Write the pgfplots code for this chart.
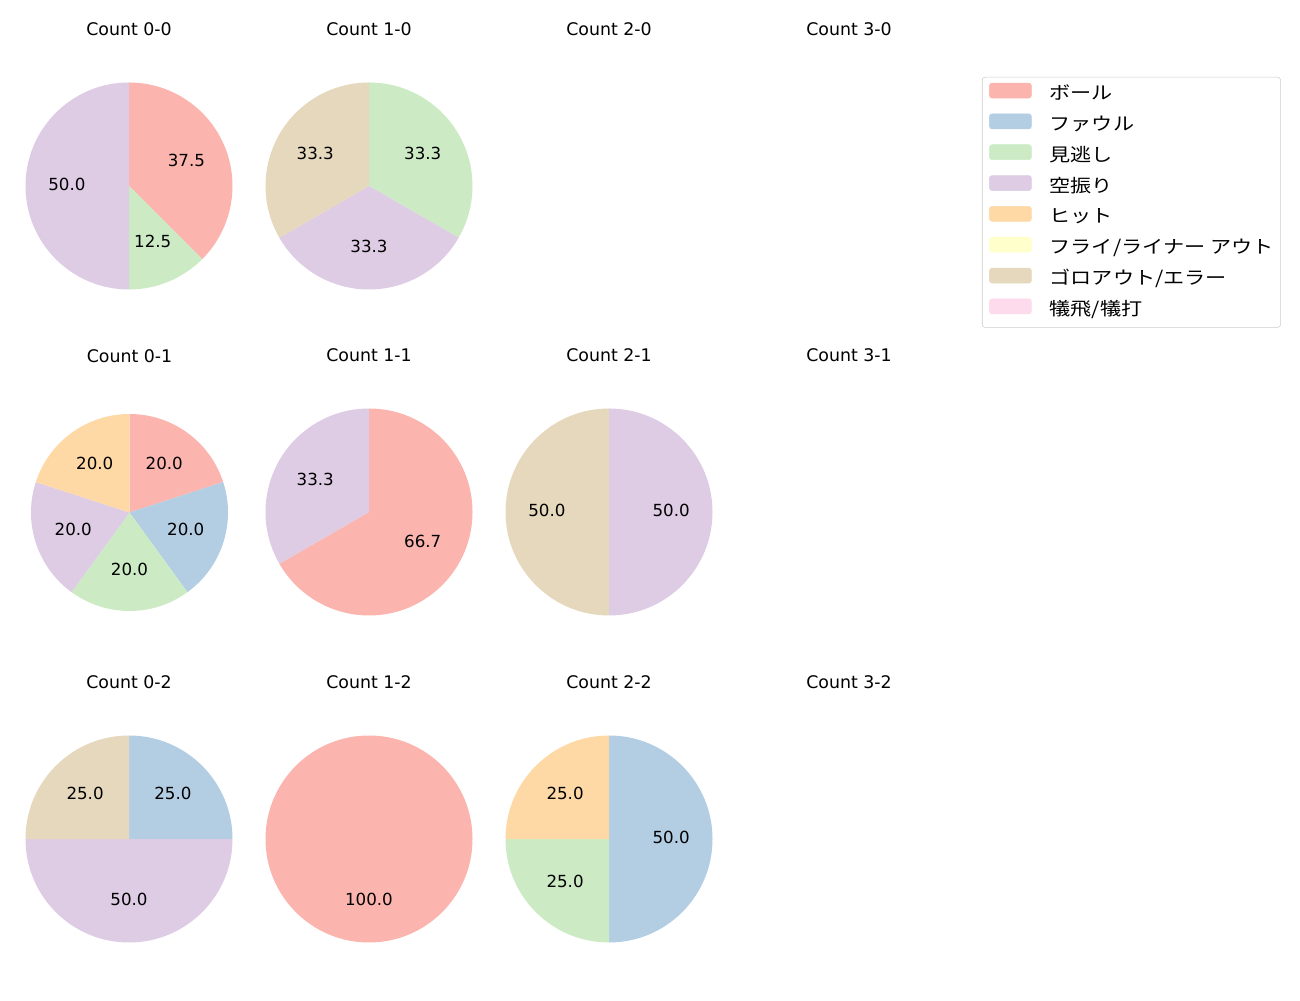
\documentclass[border=0pt]{standalone}
\usepackage{fontspec}
\setmainfont[FakeStretch=1.17]{Noto Sans CJK JP}
\newfontfamily\latinfont{DejaVu Sans}
\usepackage{pgfplots}
\pgfplotsset{compat=1.18}

% Pastel1
\definecolor{pA}{HTML}{FBB4AE} % ボール
\definecolor{pB}{HTML}{B3CDE3} % ファウル
\definecolor{pC}{HTML}{CCEBC5} % 見逃し
\definecolor{pD}{HTML}{DECBE4} % 空振り
\definecolor{pE}{HTML}{FED9A6} % ヒット
\definecolor{pF}{HTML}{FFFFCC} % フライ/ライナー アウト
\definecolor{pG}{HTML}{E5D8BD} % ゴロアウト/エラー
\definecolor{pH}{HTML}{FDDAEC} % 犠飛/犠打

\def\R{74.52pt}

\pgfplotsset{
  every axis title shift=0pt,
  pie/.style={hide axis, x=\R, y=\R, xmin=-1.2, xmax=1.2, ymin=-1.2, ymax=1.2,
    anchor=center, clip=false,
    title style={at={(0.5,1.132)}, anchor=center, font=\latinfont\fontsize{12.5}{14}\selectfont}},
}
\tikzset{lbl/.style={font=\latinfont\fontsize{12}{14}\selectfont, yshift=1.2pt}}

% #1 total, #2 list of count/colour, clockwise from the top
\newcommand\pie[2]{%
  \gdef\cum{90}%
  \foreach \v/\c in {#2}{%
    \pgfmathsetmacro\angA{\cum}%
    \pgfmathsetmacro\angB{\cum-360*\v/#1}%
    \pgfmathsetmacro\sx{cos(\angA)}%
    \pgfmathsetmacro\sy{sin(\angA)}%
    \pgfmathsetmacro\lx{0.6*cos((\angA+\angB)/2)}%
    \pgfmathsetmacro\ly{0.6*sin((\angA+\angB)/2)}%
    \pgfmathsetmacro\pc{100*\v/#1}%
    \pgfkeys{/pgf/number format/precision=1}%
    \pgfmathroundtozerofill{\pc}\let\ptxt\pgfmathresult
    \edef\temp{\noexpand\fill[\c] (axis cs:0,0) -- (axis cs:\sx,\sy)
      arc[start angle=\angA, end angle=\angB, radius=\R] -- cycle;
      \noexpand\node[lbl] at (axis cs:\lx,\ly) {\ptxt};}%
    \temp
    \xdef\cum{\angB}%
  }%
}

\begin{document}
\begin{tikzpicture}
\useasboundingbox (0,0) rectangle (936pt,720pt);

% row 1
\begin{axis}[pie, at={(92.88pt,586.08pt)}, title={Count 0-0}]
\pie{8}{3/pA,1/pC,4/pD}
\end{axis}
\begin{axis}[pie, at={(265.68pt,586.08pt)}, title={Count 1-0}]
\pie{3}{1/pC,1/pD,1/pG}
\end{axis}
\begin{axis}[pie, at={(438.48pt,586.08pt)}, title={Count 2-0}]
\end{axis}
\begin{axis}[pie, at={(611.28pt,586.08pt)}, title={Count 3-0}]
\end{axis}

% row 2
{\def\R{70.92pt}
\begin{axis}[pie, at={(93.24pt,351.0pt)}, title={Count 0-1},
  title style={at={(0.5,1.162)}}]
\pie{5}{1/pA,1/pB,1/pC,1/pD,1/pE}
\end{axis}}
\begin{axis}[pie, at={(265.68pt,351.36pt)}, title={Count 1-1}]
\pie{3}{2/pA,1/pD}
\end{axis}
\begin{axis}[pie, at={(438.48pt,351.36pt)}, title={Count 2-1}]
\pie{2}{1/pD,1/pG}
\end{axis}
\begin{axis}[pie, at={(611.28pt,351.36pt)}, title={Count 3-1}]
\end{axis}

% row 3
\begin{axis}[pie, at={(92.88pt,115.92pt)}, title={Count 0-2}]
\pie{4}{1/pB,2/pD,1/pG}
\end{axis}
\begin{axis}[pie, at={(265.68pt,115.92pt)}, title={Count 1-2}]
\pie{1}{1/pA}
\end{axis}
\begin{axis}[pie, at={(438.48pt,115.92pt)}, title={Count 2-2}]
\pie{4}{2/pB,1/pC,1/pE}
\end{axis}
\begin{axis}[pie, at={(611.28pt,115.92pt)}, title={Count 3-2}]
\end{axis}

% legend
\begin{axis}[hide axis, x=1pt, y=1pt, xmin=0, xmax=1, ymin=0, ymax=1,
  at={(707pt,664.6pt)}, anchor=north west,
  legend image code/.code={\fill[#1] (0pt,-1.6pt) rectangle (30.2pt,9.2pt);},
  legend style={at={(0,1)}, anchor=north west, draw=black!20, rounded corners=2pt,
    font=\fontsize{13}{15}\selectfont, inner xsep=5pt, inner ysep=4pt,
    row sep=5.5pt, cells={anchor=west},
    nodes={inner sep=0pt, text height=10pt, text depth=4.6pt},
    /tikz/every odd column/.append style={column sep=13pt}}]
\addlegendimage{pA}\addlegendentry{ボール}
\addlegendimage{pB}\addlegendentry{ファウル}
\addlegendimage{pC}\addlegendentry{見逃し}
\addlegendimage{pD}\addlegendentry{空振り}
\addlegendimage{pE}\addlegendentry{ヒット}
\addlegendimage{pF}\addlegendentry{フライ/ライナー アウト}
\addlegendimage{pG}\addlegendentry{ゴロアウト/エラー}
\addlegendimage{pH}\addlegendentry{犠飛/犠打}
\end{axis}
\end{tikzpicture}
\end{document}
